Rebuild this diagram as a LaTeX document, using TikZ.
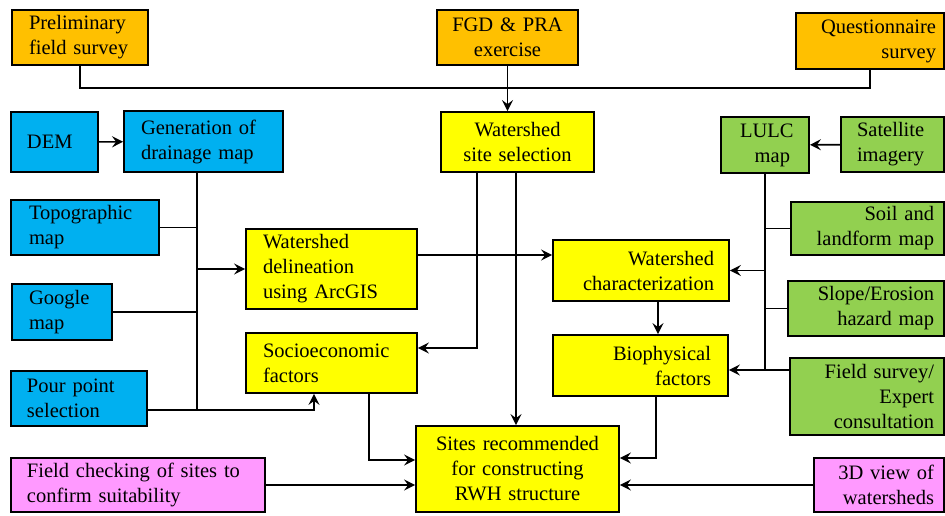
\documentclass[tikz,border=0pt]{standalone}
\usepackage{fontspec}
\setmainfont{Liberation Serif}
\usetikzlibrary{arrows.meta}

\definecolor{orng}{HTML}{FFC000}
\definecolor{skyb}{HTML}{00B0F0}
\definecolor{yell}{HTML}{FFFF00}
\definecolor{lgrn}{HTML}{92D050}
\definecolor{pink}{HTML}{FF99FF}

\tikzset{
  box/.style={draw=black, line width=1.8pt, inner xsep=0pt, inner ysep=2pt,
    font=\fontsize{20.5}{25}\selectfont},
  link/.style={line width=1.6pt},
  >={Stealth[length=11pt,width=11pt,inset=4pt]}
}

\begin{document}
\begin{tikzpicture}[x=1pt,y=-1pt]
\useasboundingbox (0,0) rectangle (945,515);

% top row
\node[box, fill=orng, align=left, text width=102, minimum width=136, minimum height=55] (prelim) at (80,37.5) {Preliminary\\field survey};
\node[box, fill=orng, align=center, text width=125, minimum width=141, minimum height=55] (fgd) at (507.5,37.5) {FGD \& PRA\\exercise};
\node[box, fill=orng, align=right, text width=132, minimum width=148, minimum height=56] (quest) at (870,41) {Questionnaire\\survey};

% inputs on the left
\node[box, fill=skyb, align=left, text width=55, minimum width=87, minimum height=60] (dem) at (54.5,142) {DEM};
\node[box, fill=skyb, align=left, text width=125, minimum width=159, minimum height=61] (gen) at (203.5,141.5) {Generation of\\drainage map};
\node[box, fill=skyb, align=left, text width=112, minimum width=148, minimum height=55] (topo) at (85,227.5) {Topographic\\map};
\node[box, fill=skyb, align=left, text width=66, minimum width=100, minimum height=56] (google) at (62,312) {Google\\map};
\node[box, fill=skyb, align=left, text width=104, minimum width=136, minimum height=55] (pour) at (79,398.5) {Pour point\\selection};

% middle
\node[box, fill=yell, align=center, text width=140, minimum width=153, minimum height=60] (wss) at (517.5,142) {Watershed\\site selection};
\node[box, fill=yell, align=left, text width=137, minimum width=171, minimum height=80] (deli) at (331.5,269) {Watershed\\delineation\\using ArcGIS};
\node[box, fill=yell, align=left, text width=137, minimum width=171, minimum height=60] (socio) at (331.5,363) {Socioeconomic\\factors};
\node[box, fill=yell, align=right, text width=146, minimum width=176, minimum height=61] (char) at (641,270.5) {Watershed\\characterization};
\node[box, fill=yell, align=right, text width=141, minimum width=175, minimum height=61] (bio) at (640.5,365.5) {Biophysical\\factors};
\node[box, fill=yell, align=center, text width=190, minimum width=203, minimum height=86] (sites) at (517.5,469) {Sites recommended\\for constructing\\RWH structure};

% inputs on the right
\node[box, fill=lgrn, align=right, text width=50, minimum width=88, minimum height=56] (lulc) at (765,145) {LULC\\map};
\node[box, fill=lgrn, align=left, text width=71, minimum width=103, minimum height=55] (sat) at (892.5,144.5) {Satellite\\imagery};
\node[box, fill=lgrn, align=right, text width=133, minimum width=153, minimum height=53] (soil) at (867.5,228.5) {Soil and\\landform map};
\node[box, fill=lgrn, align=right, text width=136, minimum width=156, minimum height=55] (slope) at (866,308.5) {Slope/Erosion\\hazard map};
\node[box, fill=lgrn, align=right, text width=134, minimum width=154, minimum height=77] (survey) at (867,396.5) {Field survey/\\Expert\\consultation};

% bottom row
\node[box, fill=pink, align=left, text width=222, minimum width=254, minimum height=54] (check) at (138,485) {Field checking of sites to\\confirm suitability};
\node[box, fill=pink, align=right, text width=110, minimum width=130, minimum height=54] (view) at (879,485) {3D view of\\watersheds};

% trunks
\coordinate (bus) at (506,88);
\coordinate (lt) at (197,410);
\coordinate (rt) at (765,370);

% connectors
\draw[link] (prelim.south) |- (bus) -| (quest.south);
\draw[link,->] (fgd.south) -- (fgd.south |- wss.north);
\draw[link,->] (dem) -- (gen);
\draw[link,->] (sat) -- (lulc);

\draw[link] (gen.south -| lt) -- (lt);
\draw[link] (topo.east) -- (topo.east -| lt);
\draw[link] (google.east) -- (google.east -| lt);
\draw[link,->] (deli.west -| lt) -- (deli.west);
\draw[link,->] ([yshift=-11.5pt]pour.east) -| ([xshift=-17.5pt]socio.south);

\draw[link,->] ([xshift=-40.5pt]wss.south) |- ([yshift=15pt]socio.east);
\draw[link,->] ([xshift=-1.5pt]wss.south) -- ([xshift=-1.5pt]sites.north);
\draw[link,->] ([yshift=14pt]deli.east) -- ([yshift=14pt]deli.east -| char.west);
\draw[link,->] ([xshift=17pt]char.south) -- ([xshift=17pt]char.south |- bio.north);

\draw[link] (lulc.south) -- (rt);
\draw[link] (soil.west) -- (soil.west -| rt);
\draw[link,->] (char.east -| rt) -- (char.east);
\draw[link] (slope.west) -- (slope.west -| rt);
\draw[link,->] ([yshift=26.5pt]survey.west) -- ([yshift=26.5pt]survey.west -| bio.east);

\draw[link,->] ([xshift=37.5pt]socio.south) |- ([yshift=9pt]sites.west);
\draw[link,->] (check.east) -- (check.east -| sites.west);
\draw[link,->] ([xshift=15.5pt]bio.south) |- ([yshift=11pt]sites.east);
\draw[link,->] (view.west) -- (view.west -| sites.east);
\end{tikzpicture}
\end{document}
